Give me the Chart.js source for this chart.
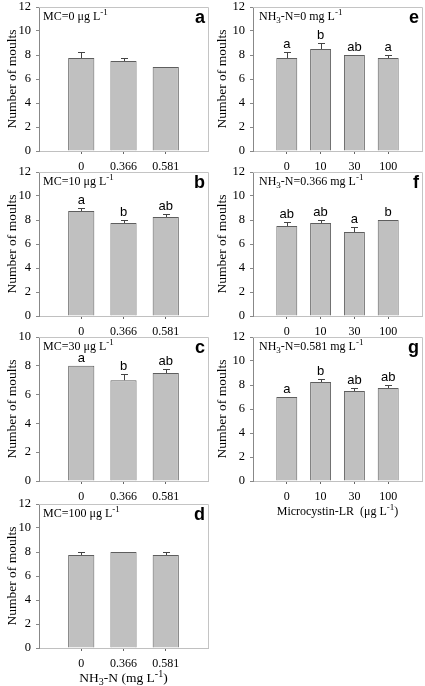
<!DOCTYPE html>
<html>
<head>
<meta charset="utf-8">
<script src="https://cdn.jsdelivr.net/npm/chart.js@4"></script>
<style>
  body { margin: 0; background: #fff; width: 425px; height: 686px; position: relative; overflow: hidden; }
  canvas { position: absolute; }
</style>
</head>
<body>
<script>
// categories
const nh3Labels = ['0', '0.366', '0.581'];
const mcLabels = ['0', '10', '30', '100'];

// left column: MC fixed, NH3-N varies
const meansA = [7.75, 7.5, 7.0];
const seA = [0.5, 0.25, 0];
const groupsA = ['', '', ''];

const meansB = [8.75, 7.75, 8.25];
const seB = [0.25, 0.25, 0.25];
const groupsB = ['a', 'b', 'ab'];

const meansC = [8.0, 7.0, 7.5];
const seC = [0, 0.4, 0.25];
const groupsC = ['a', 'b', 'ab'];

const meansD = [7.75, 8.0, 7.75];
const seD = [0.25, 0, 0.25];
const groupsD = ['', '', ''];

// right column: NH3-N fixed, MC varies
const meansE = [7.75, 8.5, 8.0, 7.75];
const seE = [0.5, 0.5, 0, 0.25];
const groupsE = ['a', 'b', 'ab', 'a'];

const meansF = [7.5, 7.75, 7.0, 8.0];
const seF = [0.3, 0.25, 0.45, 0];
const groupsF = ['ab', 'ab', 'a', 'b'];

const meansG = [7.0, 8.25, 7.5, 7.75];
const seG = [0, 0.25, 0.25, 0.25];
const groupsG = ['a', 'b', 'ab', 'ab'];

const yTitle = 'Number of moults';

const serif = '"Liberation Serif", "Times New Roman", serif';
const sans = '"Liberation Sans", Arial, sans-serif';

// text with sub/superscripts: [text, mode]
function drawRich(ctx, parts, x, y, size, align) {
  ctx.save();
  ctx.textBaseline = 'alphabetic';
  ctx.textAlign = 'left';
  ctx.fillStyle = '#000';
  const fontOf = p => (p[1] ? Math.round(size * 0.72) : size) + 'px ' + serif;
  let w = 0;
  parts.forEach(p => { ctx.font = fontOf(p); w += ctx.measureText(p[0]).width; });
  let cx = align === 'center' ? x - w / 2 : x;
  parts.forEach(p => {
    ctx.font = fontOf(p);
    const dy = p[1] === 'sub' ? size * 0.22 : p[1] === 'sup' ? -size * 0.38 : 0;
    ctx.fillText(p[0], cx, y + dy);
    cx += ctx.measureText(p[0]).width;
  });
  ctx.restore();
}

const panels = [
  { id: 'a', col: 0, top: 7,   bottom: 151, labels: nh3Labels, means: meansA, se: seA, groups: groupsA, ymax: 12,
    inset: [['MC=0 \u03bcg L', ''], ['-1', 'sup']] },
  { id: 'b', col: 0, top: 172, bottom: 316, labels: nh3Labels, means: meansB, se: seB, groups: groupsB, ymax: 12,
    inset: [['MC=10 \u03bcg L', ''], ['-1', 'sup']] },
  { id: 'c', col: 0, top: 337, bottom: 481, labels: nh3Labels, means: meansC, se: seC, groups: groupsC, ymax: 10,
    inset: [['MC=30 \u03bcg L', ''], ['-1', 'sup']] },
  { id: 'd', col: 0, top: 504, bottom: 648, labels: nh3Labels, means: meansD, se: seD, groups: groupsD, ymax: 12,
    inset: [['MC=100 \u03bcg L', ''], ['-1', 'sup']],
    xtitle: [['NH', ''], ['3', 'sub'], ['-N (mg L', ''], ['-1', 'sup'], [')', '']], xtitleSize: 13.5 },
  { id: 'e', col: 1, top: 7,   bottom: 151, labels: mcLabels, means: meansE, se: seE, groups: groupsE, ymax: 12,
    inset: [['NH', ''], ['3', 'sub'], ['-N=0 mg L', ''], ['-1', 'sup']] },
  { id: 'f', col: 1, top: 172, bottom: 316, labels: mcLabels, means: meansF, se: seF, groups: groupsF, ymax: 12,
    inset: [['NH', ''], ['3', 'sub'], ['-N=0.366 mg L', ''], ['-1', 'sup']] },
  { id: 'g', col: 1, top: 337, bottom: 481, labels: mcLabels, means: meansG, se: seG, groups: groupsG, ymax: 12,
    inset: [['NH', ''], ['3', 'sub'], ['-N=0.581 mg L', ''], ['-1', 'sup']],
    xtitle: [['Microcystin-LR  (\u03bcg L', ''], ['-1', 'sup'], [')', '']], xtitleSize: 12 }
];

const extras = {
  id: 'extras',
  afterDraw(chart, args, opts) {
    const p = opts.panel;
    const ctx = chart.ctx;
    const area = chart.chartArea;
    const ys = chart.scales.y;
    const meta = chart.getDatasetMeta(0);
    ctx.save();
    // top and right frame
    ctx.strokeStyle = '#c4c4c4';
    ctx.lineWidth = 1;
    ctx.beginPath();
    ctx.moveTo(area.left, area.top + 0.5);
    ctx.lineTo(area.right + 0.5, area.top + 0.5);
    ctx.lineTo(area.right + 0.5, area.bottom);
    ctx.stroke();
    // error bars and group letters
    p.means.forEach((m, i) => {
      const bar = meta.data[i + 1];
      const x = Math.round(bar.x) + 0.5;
      const yTop = ys.getPixelForValue(m);
      const yErr = ys.getPixelForValue(m + p.se[i]);
      if (p.se[i] > 0) {
        ctx.strokeStyle = '#444';
        ctx.beginPath();
        ctx.moveTo(x, yTop);
        ctx.lineTo(x, Math.round(yErr) + 0.5);
        ctx.moveTo(x - 3.5, Math.round(yErr) + 0.5);
        ctx.lineTo(x + 3.5, Math.round(yErr) + 0.5);
        ctx.stroke();
      }
      if (p.groups[i]) {
        ctx.fillStyle = '#000';
        ctx.font = '13px ' + sans;
        ctx.textAlign = 'center';
        ctx.textBaseline = 'alphabetic';
        ctx.fillText(p.groups[i], bar.x, Math.min(yTop, yErr) - 4);
      }
    });
    // panel letter
    ctx.fillStyle = '#000';
    ctx.font = 'bold 18px ' + sans;
    ctx.textAlign = 'right';
    ctx.textBaseline = 'alphabetic';
    ctx.fillText(p.id, area.right - 3, area.top + 16);
    ctx.restore();
    // inset text
    drawRich(ctx, p.inset, area.left + (p.col ? 6 : 4), area.top + 13, 12, 'left');
    // x axis title
    if (p.xtitle) {
      drawRich(ctx, p.xtitle, (area.left + area.right) / 2, area.bottom + 34, p.xtitleSize, 'center');
    }
  }
};

panels.forEach(p => {
  const colLeft = p.col === 0 ? 0 : 214;
  const colWidth = p.col === 0 ? 214 : 211;
  const padRight = p.col === 0 ? 6 : 3;
  const padTop = 14;
  const bottomH = p.xtitle ? 40 : 22;
  const canvas = document.createElement('canvas');
  canvas.width = colWidth;
  canvas.height = (p.bottom - p.top) + padTop + bottomH;
  canvas.style.left = colLeft + 'px';
  canvas.style.top = (p.top - padTop) + 'px';
  canvas.style.width = colWidth + 'px';
  canvas.style.height = canvas.height + 'px';
  document.body.appendChild(canvas);

  const labels = [''].concat(p.labels, ['']);
  const values = [null].concat(p.means, [null]);
  const last = labels.length - 1;

  new Chart(canvas.getContext('2d'), {
    type: 'bar',
    data: {
      labels: labels,
      datasets: [{
        data: values,
        backgroundColor: '#c0c0c0',
        borderColor: '#5e5e5e',
        borderWidth: 1,
        categoryPercentage: 1,
        barPercentage: 0.62
      }]
    },
    options: {
      responsive: false,
      animation: false,
      devicePixelRatio: 1,
      layout: { padding: { top: padTop, right: padRight, left: 0, bottom: 0 } },
      plugins: {
        legend: { display: false },
        tooltip: { enabled: false },
        extras: { panel: p }
      },
      scales: {
        x: {
          type: 'category',
          offset: false,
          grid: {
            offset: false,
            drawOnChartArea: false,
            drawTicks: true,
            tickLength: 3,
            color: c => (c.index === 0 || c.index === last) ? 'rgba(0,0,0,0)' : '#666'
          },
          border: { display: true, color: '#c0c0c0' },
          ticks: { autoSkip: false, maxRotation: 0, padding: 6, color: '#000', font: { family: serif, size: 12 } },
          afterFit: s => { s.height = bottomH; s.paddingLeft = 0; s.paddingRight = 0; }
        },
        y: {
          min: 0,
          max: p.ymax,
          ticks: { stepSize: 2, padding: 5, color: '#000', font: { family: serif, size: 12.5 } },
          grid: { drawOnChartArea: false, drawTicks: true, tickLength: 3, color: '#888' },
          border: { display: true, color: '#888' },
          title: {
            display: true,
            text: yTitle,
            color: '#000',
            font: { family: serif, size: 13.5 },
            padding: { top: p.col === 0 ? 3.9 : 0, bottom: 0 }
          },
          afterFit: s => { s.width = 39; s.paddingTop = 0; s.paddingBottom = 0; }
        }
      }
    },
    plugins: [extras]
  });
});
</script>
</body>
</html>
